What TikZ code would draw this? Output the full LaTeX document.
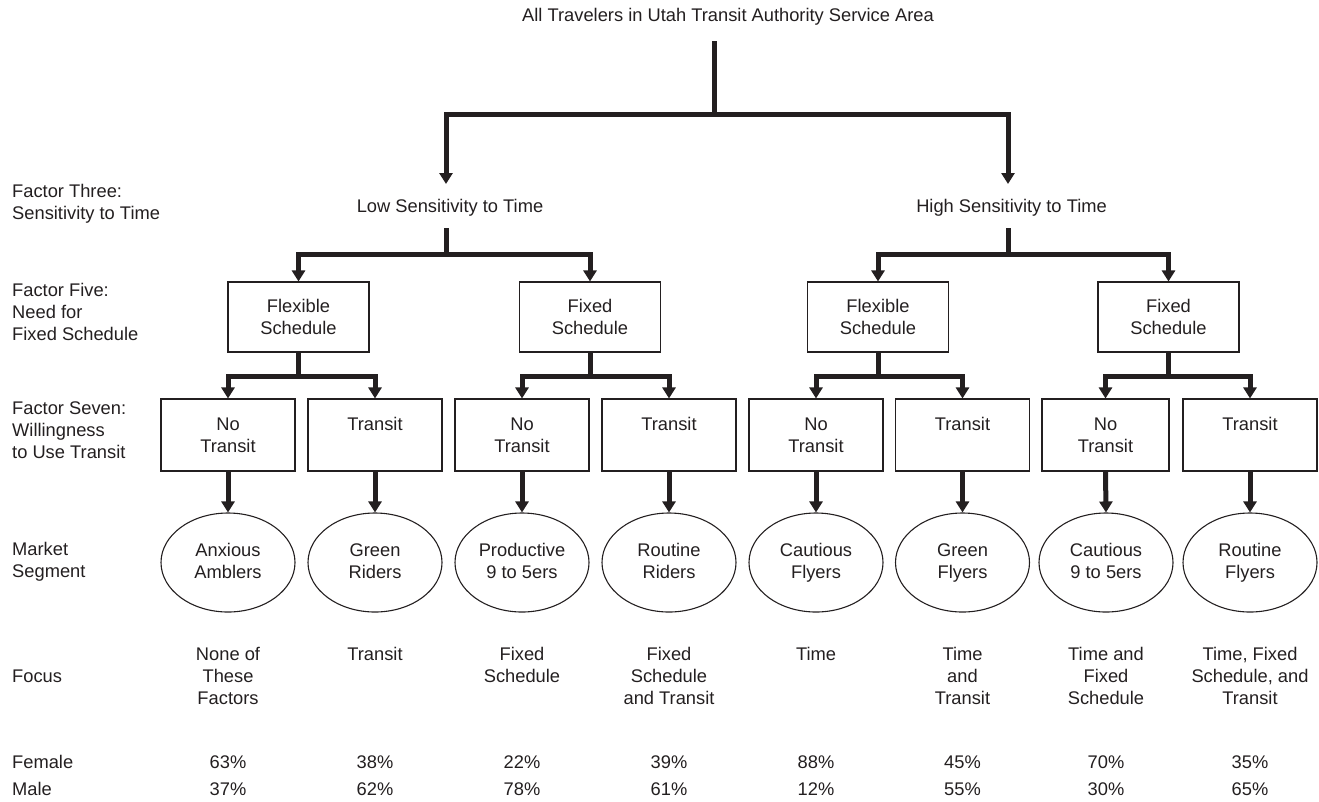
\documentclass[tikz,border=0pt]{standalone}
\usepackage{fontspec}
\setmainfont{Liberation Sans}
\usetikzlibrary{arrows.meta,shapes.geometric}
\definecolor{ink}{HTML}{231F20}
\begin{document}
\begin{tikzpicture}[x=1pt,y=-1pt,
  every node/.style={font=\fontsize{18.3}{22}\selectfont, text=ink, inner sep=0pt},
  arr/.style={draw=ink, line width=5pt, line join=miter, -{Triangle[width=13pt,length=11pt]}},
  bar/.style={draw=ink, line width=5pt, line join=miter},
  boxtwo/.style={draw=ink, line width=1.1pt, minimum width=141pt, minimum height=70pt, align=center},
  boxthree/.style={draw=ink, line width=1.1pt, minimum width=134pt, minimum height=72pt, align=center},
  seg/.style={ellipse, draw=ink, line width=1.1pt, minimum width=134pt, minimum height=99pt, align=center},
  side/.style={anchor=north west, align=left},
  focus/.style={anchor=north, align=center},
  pct/.style={anchor=base}
]
\useasboundingbox (0,0) rectangle (1319,801);

% title
\node[anchor=base] (all) at (728,21) {All Travelers in Utah Transit Authority Service Area};
\coordinate (top) at (714,41);
\coordinate (split) at (714,114);

% level 2 text
\node[anchor=base] (low) at (450,212) {Low Sensitivity to Time};
\node[anchor=base] (high) at (1011.5,212) {High Sensitivity to Time};
\coordinate (lowin) at (446,184);
\coordinate (highin) at (1008,184);
\coordinate (lowout) at (446,228);
\coordinate (highout) at (1008,228);
\coordinate (lowsplit) at (446,254);
\coordinate (highsplit) at (1008,254);

% side labels
\node[side] (f3) at (12,184) {Factor Three:\\Sensitivity to Time};
\node[side] (f5) at (12,283) {Factor Five:\\Need for\\Fixed Schedule};
\node[side] (f7) at (12,402) {Factor Seven:\\Willingness\\to Use Transit};
\node[side] (ms) at (12,542) {Market\\Segment};
\node[anchor=base west] (fo) at (12,682) {Focus};
\node[anchor=base west] (fe) at (12,768) {Female};
\node[anchor=base west] (ma) at (12,795) {Male};

% level 2 boxes
\node[boxtwo] (fl1) at (298.5,317) {Flexible\\Schedule};
\node[boxtwo] (fx1) at (590,317) {Fixed\\Schedule};
\node[boxtwo] (fl2) at (878,317) {Flexible\\Schedule};
\node[boxtwo] (fx2) at (1168.5,317) {Fixed\\Schedule};

% level 3 boxes
\node[boxthree] (b1) at (228,435) {No\\Transit};
\node[boxthree] (b2) at (375,435) {Transit\\\mbox{}};
\node[boxthree] (b3) at (522,435) {No\\Transit};
\node[boxthree] (b4) at (669,435) {Transit\\\mbox{}};
\node[boxthree] (b5) at (816,435) {No\\Transit};
\node[boxthree] (b6) at (962.5,435) {Transit\\\mbox{}};
\node[boxthree, minimum width=127pt] (b7) at (1105.5,435) {No\\Transit};
\node[boxthree] (b8) at (1250,435) {Transit\\\mbox{}};

% segments
\node[seg] (e1) at (228,562.5) {Anxious\\Amblers\vphantom{y}};
\node[seg] (e2) at (375,562.5) {Green\\Riders\vphantom{y}};
\node[seg] (e3) at (522,562.5) {Productive\\9 to 5ers\vphantom{y}};
\node[seg] (e4) at (669,562.5) {Routine\\Riders\vphantom{y}};
\node[seg] (e5) at (816,562.5) {Cautious\\Flyers};
\node[seg] (e6) at (962.5,562.5) {Green\\Flyers};
\node[seg] (e7) at (1106,562.5) {Cautious\\9 to 5ers\vphantom{y}};
\node[seg] (e8) at (1250,562.5) {Routine\\Flyers};

% focus
\node[focus] (c1) at (228,647) {None of\\These\\Factors};
\node[focus] (c2) at (375,647) {Transit};
\node[focus] (c3) at (522,647) {Fixed\\Schedule};
\node[focus] (c4) at (669,647) {Fixed\\Schedule\\and Transit};
\node[focus] (c5) at (816,647) {Time};
\node[focus] (c6) at (962.5,647) {Time\\and\\Transit};
\node[focus] (c7) at (1106,647) {Time and\\Fixed\\Schedule};
\node[focus] (c8) at (1250,647) {Time, Fixed\\Schedule, and\\Transit};

% percentages
\node[pct] (p1f) at (228,768) {63\%};
\node[pct] (p2f) at (375,768) {38\%};
\node[pct] (p3f) at (522,768) {22\%};
\node[pct] (p4f) at (669,768) {39\%};
\node[pct] (p5f) at (816,768) {88\%};
\node[pct] (p6f) at (962.5,768) {45\%};
\node[pct] (p7f) at (1106,768) {70\%};
\node[pct] (p8f) at (1250,768) {35\%};
\node[pct] (p1m) at (228,795) {37\%};
\node[pct] (p2m) at (375,795) {62\%};
\node[pct] (p3m) at (522,795) {78\%};
\node[pct] (p4m) at (669,795) {61\%};
\node[pct] (p5m) at (816,795) {12\%};
\node[pct] (p6m) at (962.5,795) {55\%};
\node[pct] (p7m) at (1106,795) {30\%};
\node[pct] (p8m) at (1250,795) {65\%};

% connectors level 1
\draw[bar] (top) -- (split);
\draw[arr] (split) -| (lowin);
\draw[arr] (split) -| (highin);

% connectors level 2
\draw[bar] (lowout) -- (lowsplit);
\draw[arr] (lowsplit) -| (fl1.north);
\draw[arr] (lowsplit) -| (fx1.north);
\draw[bar] (highout) -- (highsplit);
\draw[arr] (highsplit) -| (fl2.north);
\draw[arr] (highsplit) -| (fx2.north);

% connectors level 3
\foreach \p/\l/\r in {fl1/b1/b2, fx1/b3/b4, fl2/b5/b6, fx2/b7/b8}{
  \draw[bar] (\p.south) -- ++(0,24) coordinate (\p-j);
  \draw[arr] (\p-j) -| (\l.north);
  \draw[arr] (\p-j) -| (\r.north);
}

% connectors level 4
\foreach \i in {1,...,8}{
  \draw[arr] (b\i.south) -- (e\i.north);
}
\end{tikzpicture}
\end{document}
